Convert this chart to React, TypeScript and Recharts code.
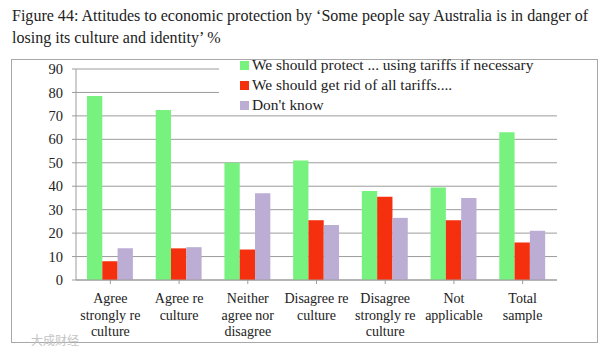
import React from "react";
import { BarChart, Bar, XAxis, YAxis, CartesianGrid, Legend } from "recharts";

const categories = [
  "Agree strongly re culture",
  "Agree re culture",
  "Neither agree nor disagree",
  "Disagree re culture",
  "Disagree strongly re culture",
  "Not applicable",
  "Total sample",
];
const tickLines: string[][] = [
  ["Agree", "strongly re", "culture"],
  ["Agree re", "culture"],
  ["Neither", "agree nor", "disagree"],
  ["Disagree re", "culture"],
  ["Disagree", "strongly re", "culture"],
  ["Not", "applicable"],
  ["Total", "sample"],
];
const protect = [78.5, 72.5, 50, 51, 38, 39.5, 63];
const rid = [8, 13.5, 13, 25.5, 35.5, 25.5, 16];
const dontKnow = [13.5, 14, 37, 23.5, 26.5, 35, 21];
const yTicks = [0, 10, 20, 30, 40, 50, 60, 70, 80, 90];

const names = ["We should protect ... using tariffs if necessary", "We should get rid of all tariffs....", "Don't know"];
const data = categories.map((c, i) => ({ c, a: protect[i], b: rid[i], d: dontKnow[i] }));

const font = "'Liberation Serif', serif";

const CatTick = (props: any) => {
  const { x, y, index } = props;
  return (
    <text x={x} y={y + 17} textAnchor="middle" fontFamily={font} fontSize={14} fill="#222">
      {tickLines[index].map((l, i) => (
        <tspan key={i} x={x} dy={i === 0 ? 0 : 16.5}>{l}</tspan>
      ))}
    </text>
  );
};

const LegendBox = () => (
  <div style={{ background: "#fff", paddingLeft: 21, height: 49, boxSizing: "border-box" }}>
    <div style={{ position: "relative", top: -6 }}>
      {names.map((n, i) => (
        <div key={n} style={{ height: 20, display: "flex", alignItems: "center", fontFamily: font, fontSize: 15.4, color: "#222", whiteSpace: "nowrap" }}>
          <span style={{ width: 9, height: 9, marginRight: 3, flex: "none", background: ["#77F27F", "#F5300F", "#BBADD3"][i], display: "inline-block" }} />
          {n}
        </div>
      ))}
    </div>
  </div>
);

export default function App() {
  return (
    <div style={{ position: "fixed", left: 0, top: 0, width: 604, height: 352, background: "#fff", overflow: "hidden" }}>
      <div style={{ position: "absolute", left: 12, top: 5, fontFamily: font, fontSize: 16.05, lineHeight: "22px", color: "#222", whiteSpace: "nowrap" }}>
        Figure 44: Attitudes to economic protection by ‘Some people say Australia is in danger of
        <br />
        losing its culture and identity’ %
      </div>
      <div style={{ position: "absolute", left: 11, top: 59, width: 585, height: 282, border: "1px solid #a8a8a8", boxSizing: "content-box" }} />
      <div style={{ position: "absolute", left: 0, top: 0 }}>
        <BarChart
          width={604}
          height={352}
          data={data}
          barGap={0}
          barSize={15.3}
          margin={{ top: 69, right: 47, bottom: 0, left: 0 }}
        >
          <CartesianGrid horizontal vertical={false} stroke="#9c9c9c" strokeWidth={1} />
          <XAxis dataKey="c" tick={<CatTick />} interval={0} tickLine={{ stroke: "#9c9c9c" }} axisLine={{ stroke: "#9c9c9c" }} tickSize={4} height={72} />
          <YAxis
            width={76}
            domain={[0, 90]}
            ticks={yTicks}
            interval={0}
            tick={{ fontFamily: font, fontSize: 14.5, fill: "#222" }}
            tickLine={{ stroke: "#9c9c9c" }}
            axisLine={{ stroke: "#9c9c9c" }}
            tickSize={4}
            tickMargin={9}
          />
          <Bar dataKey="a" name={names[0]} fill="#77F27F" isAnimationActive={false} />
          <Bar dataKey="b" name={names[1]} fill="#F5300F" isAnimationActive={false} />
          <Bar dataKey="d" name={names[2]} fill="#BBADD3" isAnimationActive={false} />
          <Legend
            content={<LegendBox />}
            layout="vertical"
            verticalAlign="middle"
            align="center"
            wrapperStyle={{ left: 219, top: 61, width: 340, height: 49 }}
          />
        </BarChart>
      </div>
      <div style={{ position: "absolute", left: 31, top: 331, fontFamily: "'Noto Sans CJK SC'", fontSize: 12, color: "#c4c4c4" }}>大成财经</div>
    </div>
  );
}
